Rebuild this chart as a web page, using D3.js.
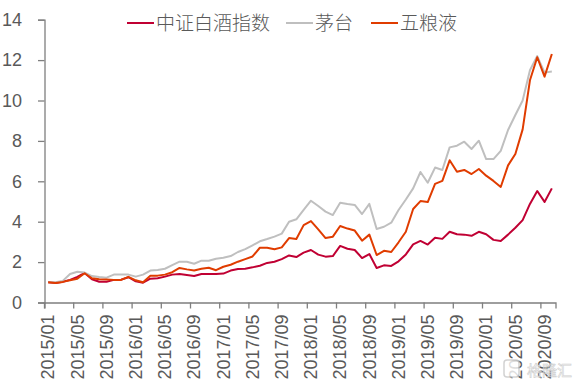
<!DOCTYPE html>
<html>
<head>
<meta charset="utf-8">
<script src="https://cdnjs.cloudflare.com/ajax/libs/d3/7.8.5/d3.min.js"></script>
<style>
  html, body { margin: 0; padding: 0; background: #fff; }
  svg { display: block; }
  .axis text { font-family: "Liberation Sans", Arial, sans-serif; font-size: 18px; fill: #595959; }
  .legend text { font-family: "Noto Sans CJK SC", sans-serif; font-size: 19px; fill: #595959; font-weight: 300; }
</style>
</head>
<body>
<div id="chart"></div>
<script>
const months = [
  "2015/01","2015/02","2015/03","2015/04","2015/05","2015/06","2015/07","2015/08","2015/09","2015/10","2015/11","2015/12",
  "2016/01","2016/02","2016/03","2016/04","2016/05","2016/06","2016/07","2016/08","2016/09","2016/10","2016/11","2016/12",
  "2017/01","2017/02","2017/03","2017/04","2017/05","2017/06","2017/07","2017/08","2017/09","2017/10","2017/11","2017/12",
  "2018/01","2018/02","2018/03","2018/04","2018/05","2018/06","2018/07","2018/08","2018/09","2018/10","2018/11","2018/12",
  "2019/01","2019/02","2019/03","2019/04","2019/05","2019/06","2019/07","2019/08","2019/09","2019/10","2019/11","2019/12",
  "2020/01","2020/02","2020/03","2020/04","2020/05","2020/06","2020/07","2020/08","2020/09","2020/10"
];

const baijiu = [
  1.00,0.97,1.03,1.12,1.27,1.46,1.15,1.03,1.03,1.12,1.13,1.25,
  1.05,0.98,1.18,1.20,1.28,1.38,1.41,1.36,1.31,1.41,1.41,1.41,
  1.43,1.58,1.66,1.67,1.74,1.82,1.96,2.02,2.15,2.33,2.25,2.47,
  2.60,2.37,2.27,2.30,2.80,2.66,2.60,2.20,2.40,1.71,1.84,1.81,
  2.04,2.38,2.88,3.05,2.87,3.20,3.15,3.50,3.38,3.36,3.30,3.50,
  3.38,3.10,3.05,3.36,3.70,4.08,4.88,5.52,4.98,5.65
];

const maotai = [
  1.00,1.00,1.07,1.41,1.52,1.48,1.31,1.26,1.23,1.38,1.38,1.38,
  1.28,1.38,1.58,1.61,1.67,1.85,2.02,2.02,1.92,2.07,2.07,2.17,
  2.22,2.30,2.50,2.64,2.83,3.03,3.14,3.26,3.41,4.00,4.12,4.58,
  5.04,4.78,4.50,4.33,4.94,4.88,4.83,4.38,4.88,3.64,3.75,3.95,
  4.58,5.10,5.65,6.46,5.93,6.68,6.56,7.68,7.76,7.96,7.60,8.01,
  7.10,7.10,7.51,8.54,9.28,10.00,11.50,12.20,11.38,11.43
];

const wuliangye = [
  1.00,0.96,1.02,1.10,1.18,1.45,1.20,1.15,1.14,1.12,1.12,1.27,
  1.10,1.00,1.32,1.33,1.38,1.50,1.71,1.64,1.58,1.67,1.72,1.60,
  1.77,1.87,2.02,2.15,2.28,2.71,2.71,2.64,2.73,3.19,3.14,3.83,
  4.03,3.62,3.19,3.26,3.79,3.66,3.56,3.06,3.36,2.35,2.56,2.50,
  2.98,3.50,4.63,5.02,4.97,5.87,6.02,7.04,6.47,6.56,6.36,6.61,
  6.28,6.02,5.72,6.79,7.35,8.57,11.00,12.14,11.18,12.30
];

const seriesNames = ["中证白酒指数", "茅台", "五粮液"];
const seriesValues = [baijiu, maotai, wuliangye];
const colors = ["#c00033", "#bfbfbf", "#e03c00"];
const yTicks = [0, 2, 4, 6, 8, 10, 12, 14];

var svg = d3.select("#chart")
  .append("svg")
  .attr("width", 578)
  .attr("height", 384);

var x = d3.scaleBand()
  .domain(months)
  .range([44.5, 555.5]);

var y = d3.scaleLinear()
  .domain([0, 14])
  .range([302.5, 19.7]);

// y axis
var yAxis = svg.append("g")
  .attr("class", "axis")
  .attr("transform", "translate(44.5,0)")
  .call(d3.axisLeft(y).tickValues(yTicks).tickSizeOuter(0).tickSize(6.5).tickPadding(16));

// x axis, ticks sit on the band edges and the labels in the band centre
var xAxis = svg.append("g")
  .attr("class", "axis")
  .attr("transform", "translate(0,302.5)")
  .call(d3.axisBottom(x).tickValues(months.filter((d, i) => i % 4 == 0)).tickSizeOuter(0).tickSize(6));

xAxis.selectAll(".tick line")
  .attr("x1", -x.bandwidth() / 2)
  .attr("x2", -x.bandwidth() / 2);

xAxis.selectAll(".tick text")
  .attr("transform", "rotate(-90)")
  .attr("x", -12)
  .attr("y", 0)
  .attr("dy", "0.35em")
  .attr("text-anchor", "end");

svg.selectAll(".axis path, .axis line")
  .attr("stroke", "#7f7f7f")
  .attr("stroke-width", 1.3);

// lines
var line = d3.line()
  .x((d, i) => x(months[i]) + x.bandwidth() / 2)
  .y(d => y(d));

svg.append("g")
  .attr("fill", "none")
  .attr("stroke-width", 2)
  .attr("stroke-linejoin", "round")
  .selectAll("path")
  .data(seriesValues)
  .enter()
  .append("path")
  .attr("stroke", (d, i) => colors[i])
  .attr("d", line);

// legend
var legendX = [127, 286, 371];
var legend = svg.append("g").attr("class", "legend");

seriesNames.forEach((name, i) => {
  legend.append("line")
    .attr("x1", legendX[i])
    .attr("x2", legendX[i] + 27)
    .attr("y1", 23)
    .attr("y2", 23)
    .attr("stroke", colors[i])
    .attr("stroke-width", 2);
  legend.append("text")
    .attr("x", legendX[i] + 29)
    .attr("y", 30)
    .text(name);
});

// watermark
var mark = svg.append("g").attr("opacity", 0.8);

mark.append("rect")
  .attr("x", 504)
  .attr("y", 360)
  .attr("width", 15)
  .attr("height", 17)
  .attr("rx", 3)
  .attr("fill", "#ffffff")
  .attr("stroke", "#c8c8c8")
  .attr("stroke-width", 1.5);

mark.append("text")
  .attr("x", 527)
  .attr("y", 376)
  .attr("font-family", "Noto Sans CJK SC, sans-serif")
  .attr("font-size", 15)
  .attr("fill", "#ffffff")
  .attr("stroke", "#c4c4c4")
  .attr("stroke-width", 0.6)
  .text("格隆汇");
</script>
</body>
</html>
